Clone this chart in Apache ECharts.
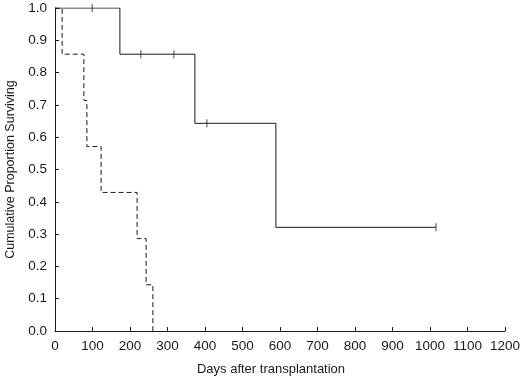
<!DOCTYPE html>
<html>
<head>
<meta charset="utf-8">
<script src="https://cdn.jsdelivr.net/npm/echarts@6/dist/echarts.min.js"></script>
<style>
  html, body { margin: 0; padding: 0; background: #fff; }
  #chart { width: 520px; height: 379px; }
</style>
</head>
<body>
<div id="chart"></div>
<script>
// solid group: [day, survival] at each event
const solidSteps = [[0, 1.0], [173, 0.857], [373, 0.643], [589, 0.321], [1016, 0.321]];
// censored points on the solid curve
const solidCensored = [[99, 1.0], [229, 0.857], [317, 0.857], [405, 0.643], [1016, 0.321]];
// dashed group
const dashedSteps = [[0, 1.0], [19, 0.857], [77, 0.714], [85, 0.571], [123, 0.429], [219, 0.286], [243, 0.143], [261, 0.0]];

const xTicks = [0, 1200, 100];   // min, max, interval
const yTicks = [0, 1, 0.1];

const font = 'Liberation Sans, Arial, sans-serif';
const ink = '#1a1a1a';

const chart = echarts.init(document.getElementById('chart'));
chart.setOption({
  animation: false,
  grid: { left: 55, right: 15, top: 8, bottom: 48, outerBoundsMode: 'none', containLabel: false },
  xAxis: {
    type: 'value',
    min: xTicks[0], max: xTicks[1], interval: xTicks[2],
    name: 'Days after transplantation',
    nameLocation: 'middle',
    nameGap: 32,
    nameTextStyle: { fontFamily: font, fontSize: 13, color: ink, padding: [0, 18, 0, 0] },
    axisLine: { lineStyle: { color: ink, width: 1 } },
    axisTick: { inside: true, length: 4, lineStyle: { color: ink } },
    axisLabel: { fontFamily: font, fontSize: 13.5, color: ink, margin: 8,
      formatter: v => String(v) },
    splitLine: { show: false }
  },
  yAxis: {
    type: 'value',
    min: yTicks[0], max: yTicks[1], interval: yTicks[2],
    name: 'Cumulative Proportion Surviving',
    nameLocation: 'middle',
    nameGap: 37,
    nameTextStyle: { fontFamily: font, fontSize: 12.5, color: ink },
    axisLine: { show: true, lineStyle: { color: ink, width: 1 } },
    axisTick: { show: true, inside: true, length: 4, lineStyle: { color: ink } },
    axisLabel: { fontFamily: font, fontSize: 13.5, color: ink, margin: 8,
      formatter: v => v.toFixed(1) },
    splitLine: { show: false }
  },
  series: [
    {
      type: 'line', step: 'end', data: dashedSteps, symbol: 'none',
      lineStyle: { color: ink, width: 1, type: [5, 3] }
    },
    {
      type: 'line', step: 'end', data: solidSteps, symbol: 'none',
      lineStyle: { color: ink, width: 1 }
    },
    {
      type: 'scatter', data: solidCensored,
      symbol: 'rect', symbolSize: [1, 8],
      itemStyle: { color: ink }
    }
  ]
});
</script>
</body>
</html>
